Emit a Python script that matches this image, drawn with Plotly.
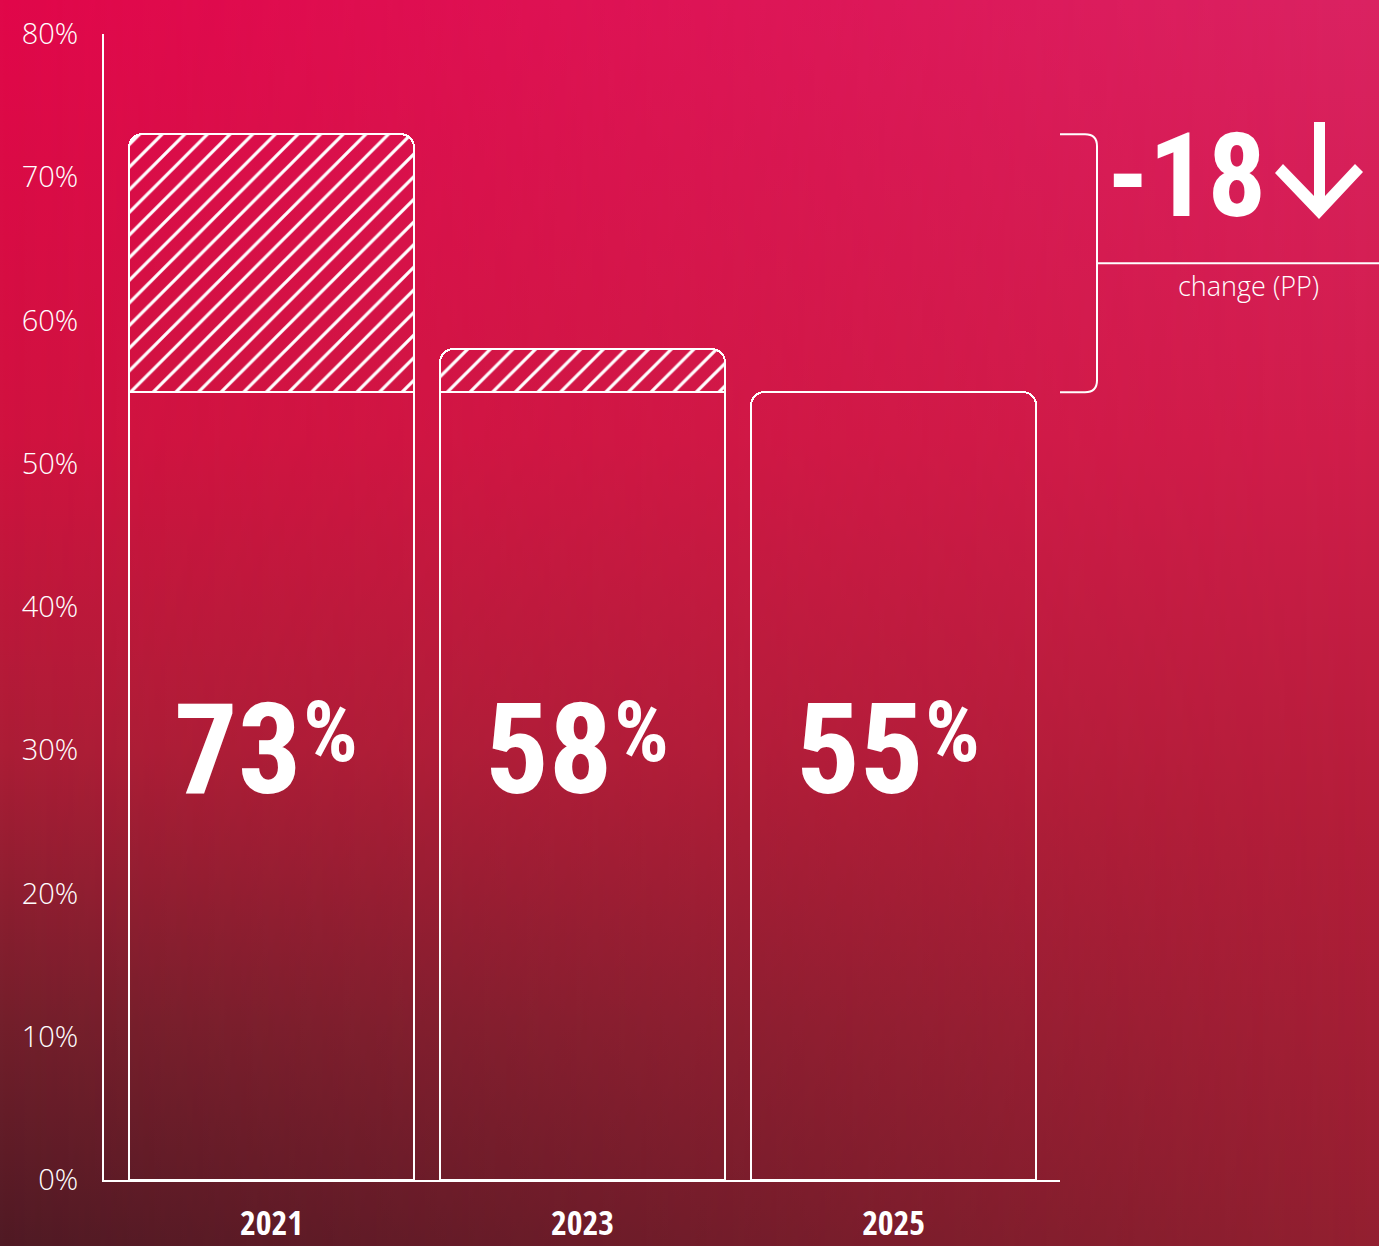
import base64
import plotly.graph_objects as go

# ---------------- data ----------------
years = ["2021", "2023", "2025"]
values = [73, 58, 55]            # share (%)
baseline = 55                    # latest value, used as the common base
y_ticks = [0, 10, 20, 30, 40, 50, 60, 70, 80]
y_tick_labels = ["0%", "10%", "20%", "30%", "40%", "50%", "60%", "70%", "80%"]
change_label = "change (PP)"
label_level = 30                 # height (in %) where the big value labels sit

base_part = [min(v, baseline) for v in values]
extra_part = [(v - baseline) if v > baseline else None for v in values]
change_pp = values[-1] - values[0]

W, H = 1379, 1246
L, R, T, B = 104, 319, 34, 66
PW, PH = W - L - R, H - T - B
Y_MAX = 80
X_RANGE = [-0.5386, 2.535]

def px(x):
    return (x - L) / PW

def py(y):
    return (H - B - y) / PH

def cat_to_paper(i):
    return (i - X_RANGE[0]) / (X_RANGE[1] - X_RANGE[0])

# ---------------- background gradient ----------------
svg = f"""<svg xmlns='http://www.w3.org/2000/svg' width='{W}' height='{H}' viewBox='0 0 {W} {H}' preserveAspectRatio='none'>
<defs>
<linearGradient id='L' x1='0' y1='0' x2='0' y2='1'>
<stop offset='0' stop-color='#E1074A'/>
<stop offset='0.35' stop-color='#D0123F'/>
<stop offset='0.6' stop-color='#AC1D36'/>
<stop offset='0.82' stop-color='#731F2B'/>
<stop offset='1' stop-color='#4F1A24'/>
</linearGradient>
<linearGradient id='R' x1='0' y1='0' x2='0' y2='1'>
<stop offset='0' stop-color='#DA2262'/>
<stop offset='0.35' stop-color='#D01D4B'/>
<stop offset='0.65' stop-color='#B51D3A'/>
<stop offset='1' stop-color='#931F30'/>
</linearGradient>
<linearGradient id='Hg' x1='0' y1='0' x2='1' y2='0'>
<stop offset='0' stop-color='white' stop-opacity='0'/>
<stop offset='1' stop-color='white' stop-opacity='1'/>
</linearGradient>
<mask id='M'><rect x='0' y='0' width='{W}' height='{H}' fill='url(#Hg)'/></mask>
</defs>
<rect x='0' y='0' width='{W}' height='{H}' fill='url(#L)'/>
<rect x='0' y='0' width='{W}' height='{H}' fill='url(#R)' mask='url(#M)'/>
</svg>"""
bg_uri = "data:image/svg+xml;base64," + base64.b64encode(svg.encode()).decode()

LINE_W = 2
WHITE = "#FFFFFF"
LIGHT_FONT = "Open Sans"
BIG_FONT = "Roboto Condensed"
BIG_SIZE = 126

fig = go.Figure()
fig.add_trace(go.Bar(
    x=years, y=base_part,
    marker=dict(color="rgba(0,0,0,0)", line=dict(color=WHITE, width=LINE_W)),
    hoverinfo="skip", showlegend=False,
))
fig.add_trace(go.Bar(
    x=years, y=extra_part,
    marker=dict(
        color="rgba(0,0,0,0)",
        line=dict(color=WHITE, width=LINE_W),
        pattern=dict(shape="/", fgcolor=WHITE, bgcolor="rgba(0,0,0,0)",
                     size=16, solidity=0.2, fgopacity=1, fillmode="overlay"),
    ),
    hoverinfo="skip", showlegend=False,
))

annotations = []
for i, v in enumerate(values):
    xp = cat_to_paper(i)
    yp = label_level / Y_MAX
    annotations.append(dict(
        x=xp, y=yp, xref="paper", yref="paper", text=f"<b>{v}</b>", showarrow=False,
        xanchor="right", yanchor="middle", xshift=31,
        font=dict(family=BIG_FONT, size=BIG_SIZE, color=WHITE, weight=700),
    ))
    annotations.append(dict(
        x=xp, y=yp, xref="paper", yref="paper", text="<b>%</b>", showarrow=False,
        xanchor="left", yanchor="middle", xshift=29, yshift=19,
        font=dict(family=BIG_FONT, size=86, color=WHITE, weight=700),
    ))

annotations.append(dict(
    x=px(1268), y=py(176), xref="paper", yref="paper",
    text=f"<b>{change_pp}</b>", showarrow=False, xanchor="right", yanchor="middle",
    font=dict(family=BIG_FONT, size=116, color=WHITE, weight=700),
))
annotations.append(dict(
    x=px(1248), y=py(285), xref="paper", yref="paper",
    text=change_label, showarrow=False, xanchor="center", yanchor="middle",
    font=dict(family=LIGHT_FONT, size=27, color=WHITE, weight=300),
))

# bracket between first and last value
top_p = values[0] / Y_MAX
bot_p = values[-1] / Y_MAX
mid_p = (top_p + bot_p) / 2
x0, xv = px(1060), px(1097)
rx = 12 / PW
ry = 12 / PH
bracket = (f"M {x0},{top_p} L {xv - rx},{top_p} Q {xv},{top_p} {xv},{top_p - ry} "
           f"L {xv},{bot_p + ry} Q {xv},{bot_p} {xv - rx},{bot_p} L {x0},{bot_p}")

arrow_pts = [(1314, 122), (1325, 122), (1325, 196), (1355, 164), (1363, 172),
             (1319, 219), (1275, 173), (1283, 164), (1314, 196)]
arrow_path = "M " + " L ".join(f"{px(a)},{py(b)}" for a, b in arrow_pts) + " Z"

shapes = [
    dict(type="path", xref="paper", yref="paper", path=bracket,
         line=dict(color=WHITE, width=LINE_W)),
    dict(type="line", xref="paper", yref="paper", x0=xv, x1=px(W), y0=mid_p, y1=mid_p,
         line=dict(color=WHITE, width=LINE_W)),
    dict(type="path", xref="paper", yref="paper", path=arrow_path,
         fillcolor=WHITE, line=dict(width=0)),
]

fig.update_layout(
    width=W, height=H, autosize=False,
    margin=dict(l=L, r=R, t=T, b=B, pad=0, autoexpand=False),
    barmode="stack", bargap=0.084, barcornerradius=13,
    paper_bgcolor="#B0173A", plot_bgcolor="rgba(0,0,0,0)",
    font=dict(family=LIGHT_FONT, color=WHITE),
    images=[dict(source=bg_uri, xref="paper", yref="paper",
                 x=px(0), y=py(0), sizex=W / PW, sizey=H / PH,
                 xanchor="left", yanchor="top", sizing="stretch", layer="below")],
    xaxis=dict(
        type="category", range=X_RANGE, automargin=False,
        showline=True, linecolor=WHITE, linewidth=LINE_W,
        showgrid=False, zeroline=False, ticks="", ticklabelstandoff=12,
        tickfont=dict(family="Open Sans Condensed", size=34, color=WHITE, weight=700),
        fixedrange=True,
    ),
    yaxis=dict(
        range=[0, Y_MAX], automargin=False,
        showline=True, linecolor=WHITE, linewidth=LINE_W,
        showgrid=False, zeroline=False, ticks="",
        tickvals=y_ticks, ticktext=y_tick_labels, ticklabelstandoff=18,
        tickfont=dict(family=LIGHT_FONT, size=29, color=WHITE, weight=300),
        fixedrange=True,
    ),
    annotations=annotations, shapes=shapes,
)

fig.write_html("out.html", config={"displayModeBar": False, "staticPlot": True},
               post_script="document.body.style.margin='0';document.body.style.overflow='hidden';")
